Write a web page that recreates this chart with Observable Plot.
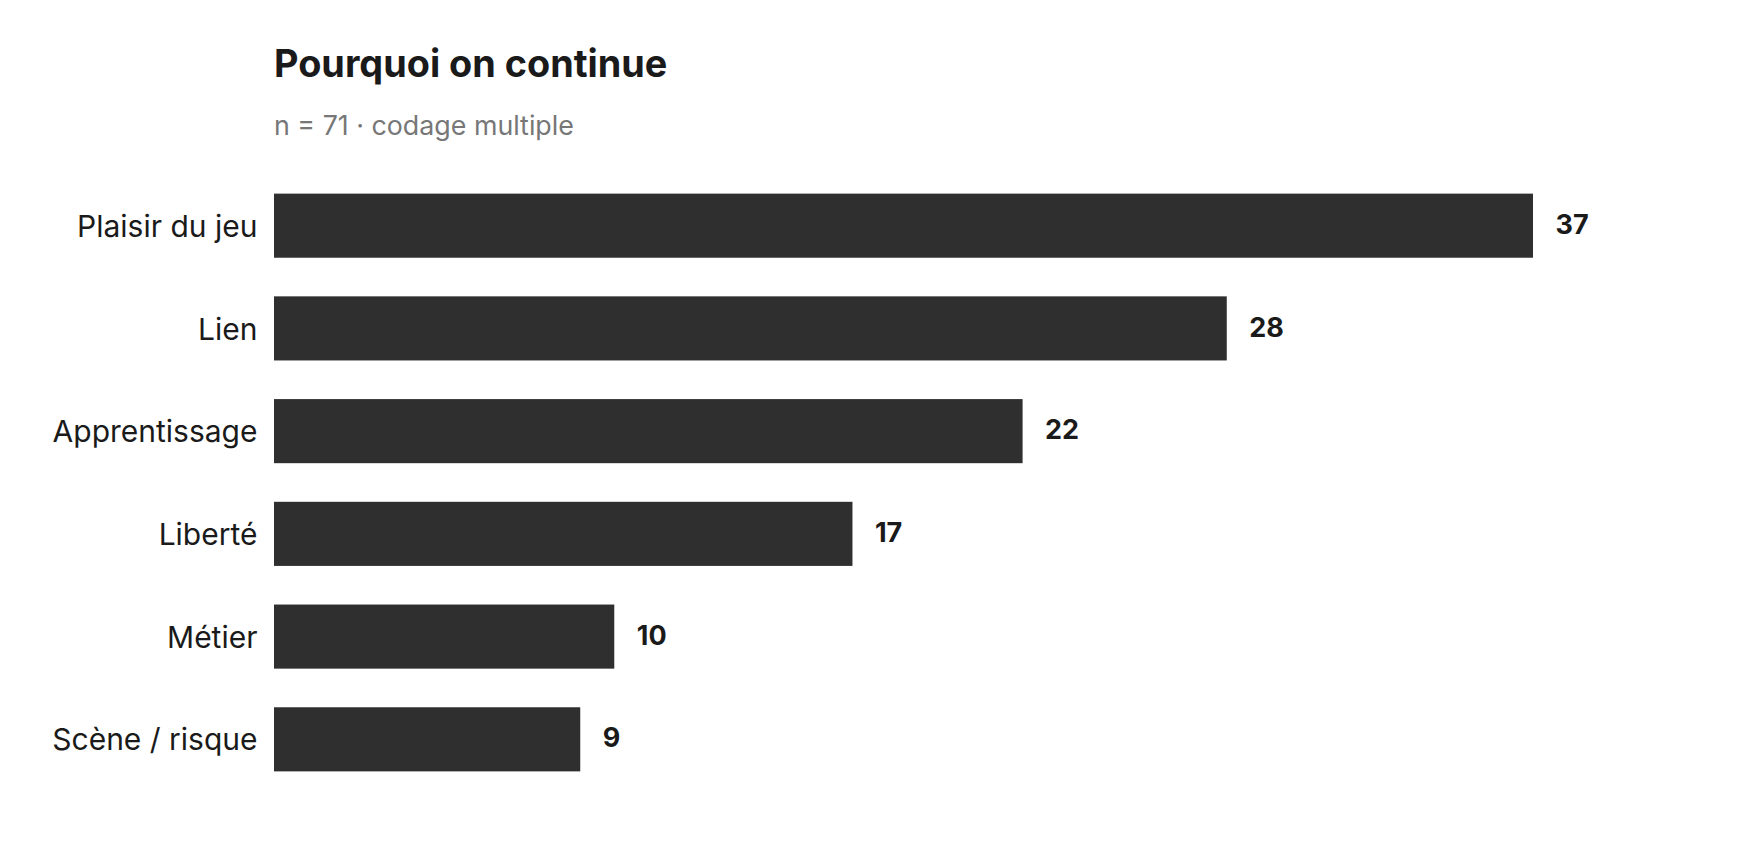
<!DOCTYPE html>
<html>
<head>
<meta charset="utf-8">
<script src="https://cdn.jsdelivr.net/npm/d3@7"></script>
<script src="https://cdn.jsdelivr.net/npm/@observablehq/plot@0.6"></script>
<style>
  html, body { margin: 0; padding: 0; background: #ffffff; }
  body { width: 1759px; height: 850px; overflow: hidden; font-family: Inter, "DejaVu Sans", sans-serif; }
  #header { position: relative; height: 150px; }
  #title { position: absolute; left: 274px; top: 45px; font-size: 37.8px; line-height: 1; font-weight: 700; color: #1a1a1a; margin: 0; white-space: nowrap; }
  #subtitle { position: absolute; left: 274px; top: 112px; font-size: 26.8px; line-height: 1; font-weight: 400; color: #777777; margin: 0; white-space: nowrap; }
  #chart svg { display: block; }
</style>
</head>
<body>
<div id="header">
  <div id="title">Pourquoi on continue</div>
  <div id="subtitle">n = 71 · codage multiple</div>
</div>
<div id="chart"></div>
<script>
const categories = ["Plaisir du jeu", "Lien", "Apprentissage", "Liberté", "Métier", "Scène / risque"];
const counts = [37, 28, 22, 17, 10, 9];

const data = categories.map((c, i) => ({category: c, count: counts[i]}));

const chart = Plot.plot({
  width: 1759,
  height: 700,
  marginLeft: 274,
  marginRight: 226,
  marginTop: 5,
  marginBottom: 40,
  style: {fontFamily: "Inter, sans-serif", fontSize: "30px", color: "#1a1a1a", background: "#ffffff"},
  x: {domain: [0, 37], axis: null},
  y: {domain: categories, padding: 0.376, round: false, axis: null},
  marks: [
    Plot.barX(data, {x: "count", y: "category", fill: "#2f2f2f"}),
    Plot.text(data, {x: "count", y: "category", text: d => String(d.count), dx: 22, dy: -1, textAnchor: "start", fontWeight: "bold", fontSize: 27, fill: "#1a1a1a"}),
    Plot.axisY({tickSize: 0, tickPadding: 17, fontSize: 30, label: null, fill: "#1a1a1a", dy: 1})
  ]
});
document.getElementById("chart").appendChild(chart);
</script>
</body>
</html>
